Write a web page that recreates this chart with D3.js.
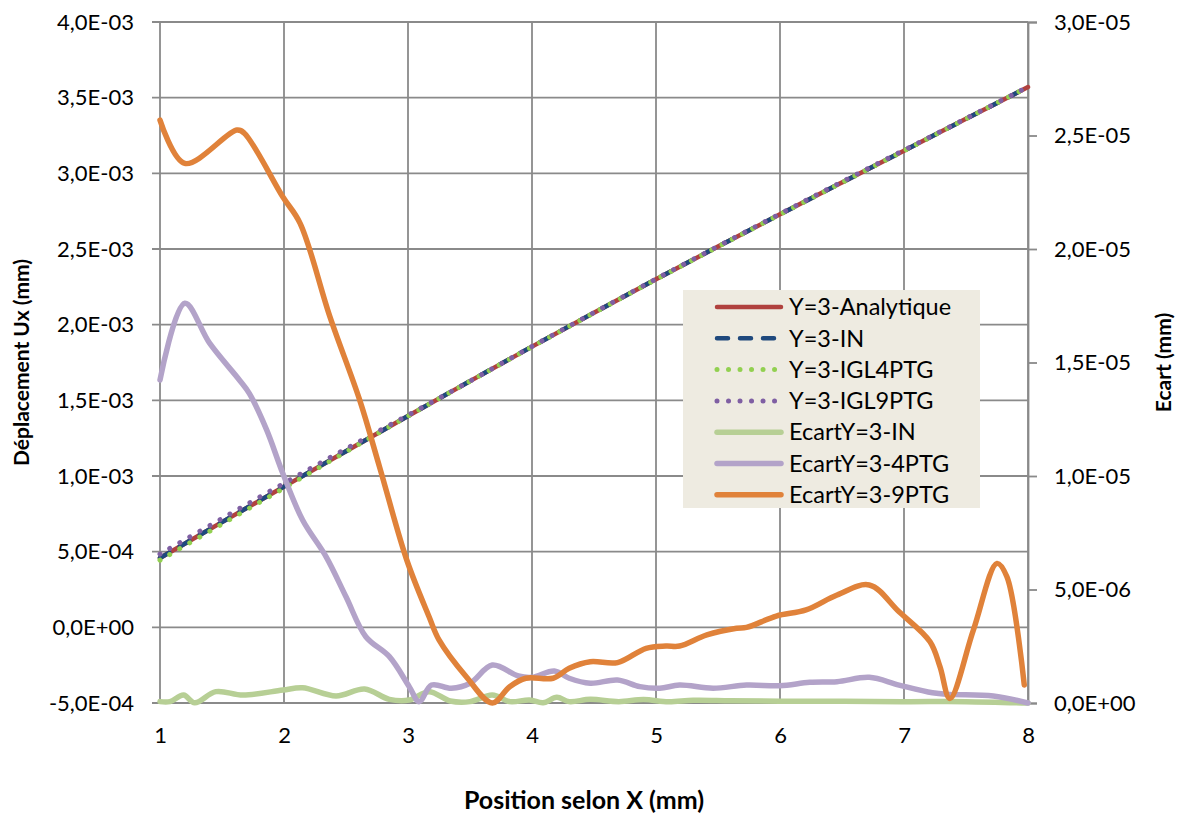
<!DOCTYPE html>
<html>
<head>
<meta charset="utf-8">
<script src="https://cdn.jsdelivr.net/npm/d3@7"></script>
<style>
  body { margin: 0; background: #fff; }
  svg text { font-family: Lato, "Liberation Sans", sans-serif; fill: #000; }
</style>
</head>
<body>
<div id="chart"></div>
<script>
// position along X (mm) for the displacement curves
const xDisp = [1, 1.5, 2, 2.5, 3, 3.5, 4, 4.5, 5, 5.5, 6, 6.5, 7, 7.5, 8];
const uxAnalytique = [4.58e-4, 6.95e-4, 9.30e-4, 1.164e-3, 1.396e-3, 1.627e-3, 1.855e-3, 2.079e-3, 2.300e-3, 2.516e-3, 2.729e-3, 2.940e-3, 3.150e-3, 3.360e-3, 3.570e-3];
const uxIN = [4.58e-4, 6.95e-4, 9.30e-4, 1.164e-3, 1.396e-3, 1.627e-3, 1.855e-3, 2.079e-3, 2.300e-3, 2.516e-3, 2.729e-3, 2.940e-3, 3.150e-3, 3.360e-3, 3.570e-3];
const uxIGL4 = [4.44e-4, 6.82e-4, 9.20e-4, 1.160e-3, 1.396e-3, 1.626e-3, 1.854e-3, 2.078e-3, 2.299e-3, 2.515e-3, 2.728e-3, 2.939e-3, 3.149e-3, 3.360e-3, 3.570e-3];
const uxIGL9 = [4.84e-4, 7.19e-4, 9.52e-4, 1.180e-3, 1.402e-3, 1.627e-3, 1.856e-3, 2.080e-3, 2.302e-3, 2.518e-3, 2.732e-3, 2.944e-3, 3.153e-3, 3.362e-3, 3.571e-3];

// ecart (mm), right axis
const xEcartIN = [1.0, 1.08, 1.19, 1.28, 1.45, 1.67, 1.99, 2.15, 2.42, 2.65, 2.85, 3.01, 3.17, 3.34, 3.5, 3.68, 3.82, 3.98, 4.09, 4.2, 4.3, 4.47, 4.7, 4.9, 5.1, 5.3, 5.6, 6.0, 6.5, 7.0, 7.5, 8.0];
const ecartIN = [0.06e-6, 0.06e-6, 0.35e-6, 0.01e-6, 0.5e-6, 0.35e-6, 0.57e-6, 0.67e-6, 0.31e-6, 0.62e-6, 0.16e-6, 0.13e-6, 0.5e-6, 0.09e-6, 0.06e-6, 0.35e-6, 0.06e-6, 0.13e-6, 0.01e-6, 0.25e-6, 0.06e-6, 0.16e-6, 0.06e-6, 0.15e-6, 0.05e-6, 0.12e-6, 0.1e-6, 0.08e-6, 0.08e-6, 0.06e-6, 0.06e-6, 0.0];

const xEcart4 = [1.0, 1.2, 1.4, 1.64, 1.72, 1.86, 1.99, 2.15, 2.34, 2.5, 2.66, 2.85, 3.01, 3.09, 3.19, 3.35, 3.5, 3.68, 3.89, 4.0, 4.18, 4.3, 4.47, 4.69, 4.87, 5.03, 5.19, 5.46, 5.73, 6.0, 6.24, 6.46, 6.72, 6.96, 7.23, 7.37, 7.72, 8.0];
const ecart4 = [14.23e-6, 17.61e-6, 15.85e-6, 14.23e-6, 13.64e-6, 12.03e-6, 10.12e-6, 8.06e-6, 6.44e-6, 4.68e-6, 2.92e-6, 2.04e-6, 0.72e-6, 0.06e-6, 0.79e-6, 0.65e-6, 0.87e-6, 1.67e-6, 1.19e-6, 1.13e-6, 1.41e-6, 1.09e-6, 0.87e-6, 1.01e-6, 0.72e-6, 0.65e-6, 0.79e-6, 0.65e-6, 0.79e-6, 0.76e-6, 0.91e-6, 0.94e-6, 1.13e-6, 0.79e-6, 0.45e-6, 0.38e-6, 0.31e-6, 0.0];

const xEcart9 = [1.0, 1.2, 1.62, 1.68, 1.99, 2.13, 2.37, 2.61, 2.77, 2.99, 3.17, 3.25, 3.47, 3.68, 3.82, 3.95, 4.17, 4.3, 4.47, 4.69, 4.92, 5.08, 5.19, 5.41, 5.65, 5.73, 5.97, 6.21, 6.46, 6.72, 6.96, 7.21, 7.29, 7.37, 7.56, 7.75, 7.83, 7.97];
const ecart9 = [25.68e-6, 23.77e-6, 25.24e-6, 25.1e-6, 22.3e-6, 21.13e-6, 17.02e-6, 13.35e-6, 10.41e-6, 6.3e-6, 3.8e-6, 2.78e-6, 1.16e-6, 0.0, 0.72e-6, 1.09e-6, 1.09e-6, 1.53e-6, 1.82e-6, 1.78e-6, 2.41e-6, 2.51e-6, 2.51e-6, 3.0e-6, 3.29e-6, 3.33e-6, 3.83e-6, 4.1e-6, 4.76e-6, 5.2e-6, 4.02e-6, 2.7e-6, 1.6e-6, 0.2e-6, 3.22e-6, 6.15e-6, 5.56e-6, 0.79e-6];

const xTicks = [1, 2, 3, 4, 5, 6, 7, 8];
const leftTicks = [-5e-4, 0, 5e-4, 1e-3, 1.5e-3, 2e-3, 2.5e-3, 3e-3, 3.5e-3, 4e-3];
const rightTicks = [0, 5e-6, 1e-5, 1.5e-5, 2e-5, 2.5e-5, 3e-5];

const width = 1188, height = 821;
const margin = { top: 22, right: 160, bottom: 118, left: 160 };

const svg = d3.select("#chart").append("svg")
    .attr("width", width)
    .attr("height", height);

const x = d3.scaleLinear().domain([1, 8]).range([margin.left, width - margin.right]);
const yL = d3.scaleLinear().domain([-5e-4, 4e-3]).range([height - margin.bottom, margin.top]);
const yR = d3.scaleLinear().domain([0, 3e-5]).range([height - margin.bottom, margin.top]);

// 4,0E-03 style labels
function sci(v) {
    if (v === 0) return "0,0E+00";
    const [m, e] = v.toExponential(1).split("e");
    const ex = parseInt(e, 10);
    return m.replace(".", ",") + "E" + (ex < 0 ? "-" : "+") + String(Math.abs(ex)).padStart(2, "0");
}

const gridColor = "#8a8a8a";

// gridlines
svg.append("g").selectAll("line").data(leftTicks).join("line")
    .attr("x1", margin.left - 8).attr("x2", width - margin.right)
    .attr("y1", d => yL(d)).attr("y2", d => yL(d))
    .attr("stroke", gridColor).attr("stroke-width", 1.8);
svg.append("g").selectAll("line").data(xTicks).join("line")
    .attr("x1", d => x(d)).attr("x2", d => x(d))
    .attr("y1", margin.top).attr("y2", height - margin.bottom)
    .attr("stroke", gridColor).attr("stroke-width", 1.8);

// left axis
const yAxisL = d3.axisLeft(yL).tickValues(leftTicks).tickFormat(sci).tickSize(0).tickPadding(26);
const gL = svg.append("g").attr("transform", `translate(${margin.left},0)`).call(yAxisL);
gL.select(".domain").remove();
gL.selectAll("text").attr("font-size", 22).attr("font-family", "Lato");

// right axis
const yAxisR = d3.axisRight(yR).tickValues(rightTicks).tickFormat(sci).tickSize(9).tickPadding(17);
const gR = svg.append("g").attr("transform", `translate(${width - margin.right},0)`).call(yAxisR);
gR.select(".domain").attr("stroke", gridColor).attr("stroke-width", 1.8);
gR.selectAll(".tick line").attr("stroke", gridColor).attr("stroke-width", 1.8);
gR.selectAll("text").attr("font-size", 22).attr("font-family", "Lato");

// x axis
const xAxis = d3.axisBottom(x).tickValues(xTicks).tickFormat(d3.format("d")).tickSize(0).tickPadding(24);
const gX = svg.append("g").attr("transform", `translate(0,${height - margin.bottom})`).call(xAxis);
gX.select(".domain").remove();
gX.selectAll("text").attr("font-size", 22).attr("font-family", "Lato");

// axis titles
svg.append("text")
    .attr("transform", `translate(29,${(margin.top + height - margin.bottom) / 2}) rotate(-90)`)
    .attr("text-anchor", "middle").attr("font-size", 21).attr("font-weight", "bold")
    .text("Déplacement Ux (mm)");
svg.append("text")
    .attr("transform", `translate(1171,${(margin.top + height - margin.bottom) / 2}) rotate(-90)`)
    .attr("text-anchor", "middle").attr("font-size", 21).attr("font-weight", "bold")
    .text("Ecart (mm)");
svg.append("text")
    .attr("x", 584).attr("y", 809)
    .attr("text-anchor", "middle").attr("font-size", 25).attr("font-weight", "bold")
    .text("Position selon X (mm)");

const lineL = d3.line().x(d => x(d[0])).y(d => yL(d[1])).curve(d3.curveCatmullRom.alpha(0.5));
const lineR = d3.line().x(d => x(d[0])).y(d => yR(d[1])).curve(d3.curveCatmullRom.alpha(0.5));

const series = [
    { name: "Y=3-Analytique", xs: xDisp, ys: uxAnalytique, axis: "L", color: "#b0413e", w: 4.5, dash: null },
    { name: "Y=3-IN", xs: xDisp, ys: uxIN, axis: "L", color: "#1f497d", w: 4.5, dash: "11,12" },
    { name: "Y=3-IGL4PTG", xs: xDisp, ys: uxIGL4, axis: "L", color: "#92d050", w: 5, dash: "0.01,11.5" },
    { name: "Y=3-IGL9PTG", xs: xDisp, ys: uxIGL9, axis: "L", color: "#7f5fa3", w: 5, dash: "0.01,11.5" },
    { name: "EcartY=3-IN", xs: xEcartIN, ys: ecartIN, axis: "R", color: "#b7cf95", w: 5.5, dash: null },
    { name: "EcartY=3-4PTG", xs: xEcart4, ys: ecart4, axis: "R", color: "#b3a3c9", w: 5.5, dash: null },
    { name: "EcartY=3-9PTG", xs: xEcart9, ys: ecart9, axis: "R", color: "#e0823a", w: 5.5, dash: null }
];

series.forEach(s => {
    const pts = s.xs.map((v, i) => [v, s.ys[i]]);
    svg.append("path")
        .attr("d", (s.axis === "L" ? lineL : lineR)(pts))
        .attr("fill", "none")
        .attr("stroke", s.color)
        .attr("stroke-width", s.w)
        .attr("stroke-linecap", "round")
        .attr("stroke-linejoin", "round")
        .attr("stroke-dasharray", s.dash);
});

// legend
const legend = svg.append("g").attr("transform", "translate(683,290)");
legend.append("rect").attr("width", 297).attr("height", 218).attr("fill", "#eeebe1");
series.forEach((s, i) => {
    const yy = 17 + i * 31.3;
    legend.append("line")
        .attr("x1", 34).attr("x2", 98).attr("y1", yy).attr("y2", yy)
        .attr("stroke", s.color).attr("stroke-width", s.w)
        .attr("stroke-linecap", "round")
        .attr("stroke-dasharray", s.dash);
    legend.append("text")
        .attr("x", 106).attr("y", yy).attr("dy", "0.35em")
        .attr("font-size", 23.5)
        .text(s.name);
});
</script>
</body>
</html>
